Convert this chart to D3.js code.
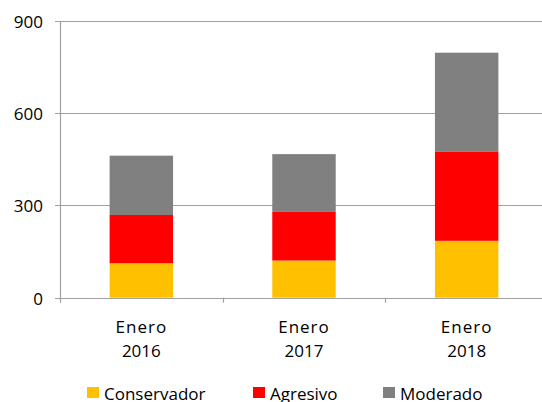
<!DOCTYPE html>
<html>
<head>
<meta charset="utf-8">
<script src="https://cdn.jsdelivr.net/npm/d3@7"></script>
<style>
  body { margin: 0; background: #fff; }
  svg { display: block; }
  text { font-family: "Open Sans", sans-serif; font-size: 17px; fill: #000; }
</style>
</head>
<body>
<div id="container"></div>
<script>
// values
var categories = ["Enero 2016", "Enero 2017", "Enero 2018"];
var seriesNames = ["Conservador", "Agresivo", "Moderado"];
var conservador = [112, 121, 185];
var agresivo = [157, 158, 291];
var moderado = [193, 188, 321];
var yTicks = [0, 300, 600, 900];

var colors = ["#ffc000", "#ff0000", "#808080"];

var width = 542, height = 402;
var plotLeft = 60, plotRight = 548, plotTop = 21, plotBottom = 297.7;

var svg = d3.select("#container").append("svg")
    .attr("width", width)
    .attr("height", height);

var x = d3.scaleBand()
    .domain(categories)
    .range([plotLeft, plotRight])
    .padding(0);

var y = d3.scaleLinear()
    .domain([0, 900])
    .range([plotBottom, plotTop]);

// gridlines
svg.append("g")
    .selectAll("line")
    .data(yTicks)
    .enter()
    .append("line")
    .attr("x1", plotLeft - 5)
    .attr("x2", width)
    .attr("y1", function(d) { return Math.round(y(d)) + 0.5; })
    .attr("y2", function(d) { return Math.round(y(d)) + 0.5; })
    .attr("stroke", "#a0a0a0")
    .attr("stroke-width", 1.2);

// y labels
svg.append("g")
    .selectAll("text")
    .data(yTicks)
    .enter()
    .append("text")
    .attr("x", 43)
    .attr("y", function(d) { return y(d) + 7; })
    .attr("text-anchor", "end")
    .text(function(d) { return d; });

// stack the data
var rows = categories.map(function(c, i) {
    return { cat: c, Conservador: conservador[i], Agresivo: agresivo[i], Moderado: moderado[i] };
});
var stacked = d3.stack().keys(seriesNames)(rows);

var barW = x.bandwidth() * 0.39;

svg.append("g")
    .selectAll("g")
    .data(stacked)
    .enter()
    .append("g")
    .attr("fill", function(d, i) { return colors[i]; })
    .selectAll("rect")
    .data(function(d) { return d; })
    .enter()
    .append("rect")
    .attr("x", function(d) { return x(d.data.cat) + (x.bandwidth() - barW) / 2; })
    .attr("width", barW)
    .attr("y", function(d) { return y(d[1]); })
    .attr("height", function(d) { return y(d[0]) - y(d[1]); });

// axes lines
svg.append("line")
    .attr("x1", plotLeft + 0.5).attr("x2", plotLeft + 0.5)
    .attr("y1", plotTop).attr("y2", plotBottom + 5)
    .attr("stroke", "#a0a0a0").attr("stroke-width", 1.2);

svg.append("g")
    .selectAll("line")
    .data(categories.slice(1))
    .enter()
    .append("line")
    .attr("x1", function(d) { return Math.round(x(d)) + 0.5; })
    .attr("x2", function(d) { return Math.round(x(d)) + 0.5; })
    .attr("y1", plotBottom)
    .attr("y2", plotBottom + 5)
    .attr("stroke", "#a0a0a0").attr("stroke-width", 1.2);

// x labels, two lines
var xl = svg.append("g")
    .selectAll("text")
    .data(categories)
    .enter()
    .append("text")
    .attr("text-anchor", "middle")
    .attr("y", 333);
xl.append("tspan")
    .attr("x", function(d) { return x(d) + x.bandwidth() / 2; })
    .attr("letter-spacing", 1)
    .text(function(d) { return d.split(" ")[0]; });
xl.append("tspan")
    .attr("x", function(d) { return x(d) + x.bandwidth() / 2; })
    .attr("dy", 24)
    .text(function(d) { return d.split(" ")[1]; });

// legend
var legendX = [87, 253, 383];
var leg = svg.append("g")
    .selectAll("g")
    .data(seriesNames)
    .enter()
    .append("g")
    .attr("transform", function(d, i) { return "translate(" + legendX[i] + ",387)"; });
leg.append("rect")
    .attr("width", 12)
    .attr("height", 11)
    .attr("fill", function(d, i) { return colors[i]; });
leg.append("text")
    .attr("x", 17)
    .attr("y", 12.5)
    .text(function(d) { return d; });
</script>
</body>
</html>
